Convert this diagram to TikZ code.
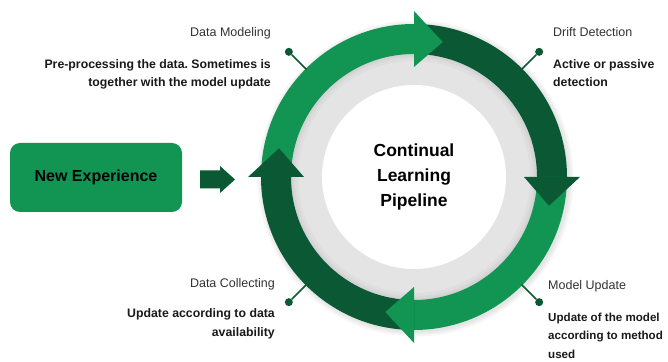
\documentclass[tikz,border=0pt]{standalone}
\usepackage{fontspec}
\setmainfont{Liberation Sans}
\usetikzlibrary{positioning}
\definecolor{pipelight}{HTML}{129553}
\definecolor{pipedark}{HTML}{0A5834}
\definecolor{ringgray}{HTML}{E4E4E4}
\frenchspacing
\tikzset{
  stagetitle/.style={font=\fontsize{12.5}{15}\selectfont, text=black!80, inner sep=0pt},
  stagetext/.style={font=\fontsize{12.3}{18.5}\selectfont\bfseries, text=black!90, inner sep=0pt},
  linkdot/.style={circle, fill=pipedark, inner sep=0pt, minimum size=8pt},
  link/.style={pipedark, line width=1.6pt},
  expbox/.style={rounded corners=10pt, fill=pipelight, minimum width=172pt, minimum height=69pt,
    font=\fontsize{16}{18}\selectfont\bfseries},
  pipetext/.style={font=\fontsize{17.5}{25}\selectfont\bfseries, align=center},
}

\begin{document}
\begin{tikzpicture}[x=1pt, y=1pt]
  \useasboundingbox (0,0) rectangle (668,361);

  % the cycle
  \begin{scope}[shift={(414,184)}]
    \foreach \r in {158,156,154}
      \fill[black, opacity=0.035] (1.5,-1.5) circle (\r);
    \fill[ringgray] (0,0) circle (124);
    \foreach \r in {116,119,121}
      \fill[black, opacity=0.025, even odd rule] (0,0) circle (124) circle (\r);
    \fill[white] (0,0) circle (92);
    \foreach \a/\col in {180/pipelight, 90/pipedark, 0/pipelight, -90/pipedark}
      \fill[\col] (\a:153) arc[start angle=\a, end angle=\a-90, radius=153]
        -- (\a-90:123) arc[start angle=\a-90, end angle=\a, radius=123] -- cycle;
    \foreach \a/\col in {180/pipelight, 90/pipedark, 0/pipelight, -90/pipedark}
      \fill[\col] (\a-90:110) -- (\a-90:166) -- (\a-102:138) -- cycle;

    \node[pipetext] (pipe) at (0,0) {Continual\\Learning\\Pipeline};

    \node[linkdot] (dmdot) at (135:177) {};
    \node[linkdot] (dddot) at (45:177) {};
    \node[linkdot] (mudot) at (-45:177) {};
    \node[linkdot] (dcdot) at (-135:177) {};
    \coordinate (dmring) at (135:152);
    \coordinate (ddring) at (45:152);
    \coordinate (muring) at (-45:152);
    \coordinate (dcring) at (-135:152);
  \end{scope}

  \draw[link] (dmring) -- (dmdot);
  \draw[link] (ddring) -- (dddot);
  \draw[link] (muring) -- (mudot);
  \draw[link] (dcring) -- (dcdot);

  % stages
  \node[stagetitle, anchor=base east] (dmtitle) at (271,324) {Data Modeling};
  \node[stagetext, align=right, anchor=base east] (dmtext) at ([yshift=-50pt]dmtitle.base east)
    {Pre-processing the data. Sometimes is\\together with the model update};

  \node[stagetitle, anchor=base west] (ddtitle) at (553,324) {Drift Detection};
  \node[stagetext, align=left, anchor=base west] (ddtext) at ([yshift=-50pt]ddtitle.base west)
    {Active or passive\\detection};

  \node[stagetitle, anchor=base east] (dctitle) at (275,74) {Data Collecting};
  \node[stagetext, align=right, anchor=base east] (dctext) at ([yshift=-49pt]dctitle.base east)
    {Update according to data\\availability};

  \node[stagetitle, anchor=base west] (mutitle) at (548,71) {Model Update};
  \node[stagetext, font=\fontsize{11.6}{18.5}\selectfont\bfseries, align=left, anchor=base west]
    (mutext) at ([yshift=-68pt]mutitle.base west)
    {Update of the model\\according to method\\used};

  % input
  \node[expbox] (newexp) at (96,183.5) {New Experience};
  \fill[pipedark] (200,172.5) -- (220,172.5) -- (220,168) -- (235,181.5)
    -- (220,195) -- (220,190.5) -- (200,190.5) -- cycle;
\end{tikzpicture}
\end{document}
